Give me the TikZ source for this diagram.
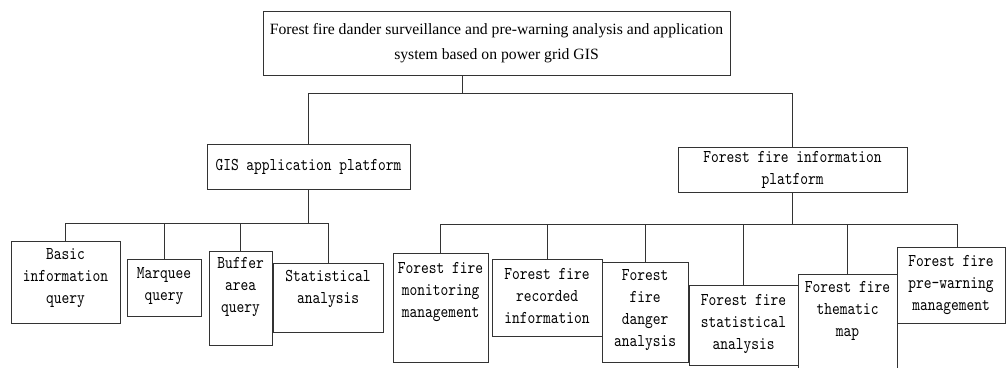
\documentclass[tikz,border=0pt]{standalone}
\usepackage{fontspec}
\setmainfont{Liberation Serif}
\newfontfamily\monofont{lmmono10-regular.otf}[FakeStretch=0.82]
\begin{document}
\begin{tikzpicture}[x=1pt,y=-1pt,
  box/.style={draw=black!80, line width=0.9pt, inner sep=0pt},
  lbl/.style={font=\monofont\fontsize{18}{22}\selectfont, align=center, inner sep=0pt, text=black},
  toplbl/.style={font=\fontsize{15.7}{25}\selectfont, align=center},
  conn/.style={draw=black!80, line width=0.9pt}]
\fill[white] (0,0) rectangle (1006,367);
\clip (0,0) rectangle (1006,367);
% top level
\node[box, toplbl, minimum width=467pt, minimum height=64pt] (top) at (496.5,43)
  {Forest fire dander surveillance and pre-warning analysis and application\\system based on power grid GIS};
\node[box, lbl, minimum width=203pt, minimum height=45pt] (gis) at (308.5,166.5) {GIS application platform};
\node[box, lbl, minimum width=229pt, minimum height=45pt] (info) at (792.5,169.5) {Forest fire information\\platform};
% GIS children
\node[box, minimum width=109pt, minimum height=82pt] (basic) at (65.5,282) {};
\node[lbl] (tbasic) at (65.5,278) {Basic\\information\\query};
\node[box, minimum width=74pt, minimum height=57pt] (marquee) at (164,287.5) {};
\node[lbl] (tmarquee) at (164,286.5) {Marquee\\query};
\node[box, minimum width=63pt, minimum height=94pt] (buffer) at (240.5,298) {};
\node[lbl] (tbuffer) at (240.5,287) {Buffer\\area\\query};
\node[box, minimum width=110pt, minimum height=69pt] (stat1) at (328,297.5) {};
\node[lbl] (tstat1) at (328,289) {Statistical\\analysis};
% info children
\node[box, minimum width=95pt, minimum height=109pt] (monitor) at (440.5,307.5) {};
\node[lbl] (tmonitor) at (440.5,292) {Forest fire\\monitoring\\management};
\node[box, minimum width=110pt, minimum height=77pt] (recorded) at (547,297.5) {};
\node[lbl] (trecorded) at (547,296) {Forest fire\\recorded\\information};
\node[box, minimum width=86pt, minimum height=100pt] (danger) at (645,312) {};
\node[lbl] (tdanger) at (645,310) {Forest\\fire\\danger\\analysis};
\node[box, minimum width=109pt, minimum height=80pt] (stat2) at (743.5,325) {};
\node[lbl] (tstat2) at (743.5,324) {Forest fire\\statistical\\analysis};
\node[box, minimum width=99pt, minimum height=116pt] (thematic) at (847.5,332) {};
\node[lbl] (tthematic) at (847.5,311) {Forest fire\\thematic\\map};
\node[box, minimum width=108pt, minimum height=76pt] (prewarn) at (951,285) {};
\node[lbl] (tprewarn) at (951,285) {Forest fire\\pre-warning\\management};
% connectors
\coordinate (busA) at (462,93);
\draw[conn] (top.south -| busA) -- (busA);
\draw[conn] (gis.north) |- (busA);
\draw[conn] (info.north) |- (busA);
\coordinate (busB) at (308.5,223);
\draw[conn] (gis.south) -- (busB);
\draw[conn] (basic.north) |- (busB);
\draw[conn] (marquee.north) |- (busB);
\draw[conn] (buffer.north) |- (busB);
\draw[conn] (stat1.north) |- (busB);
\coordinate (busC) at (792.5,224);
\draw[conn] (info.south) -- (busC);
\draw[conn] (monitor.north) |- (busC);
\draw[conn] (recorded.north) |- (busC);
\draw[conn] (danger.north) |- (busC);
\draw[conn] (stat2.north) |- (busC);
\draw[conn] (thematic.north) |- (busC);
\draw[conn] ([xshift=6pt]prewarn.north) |- (busC);
\end{tikzpicture}
\end{document}
